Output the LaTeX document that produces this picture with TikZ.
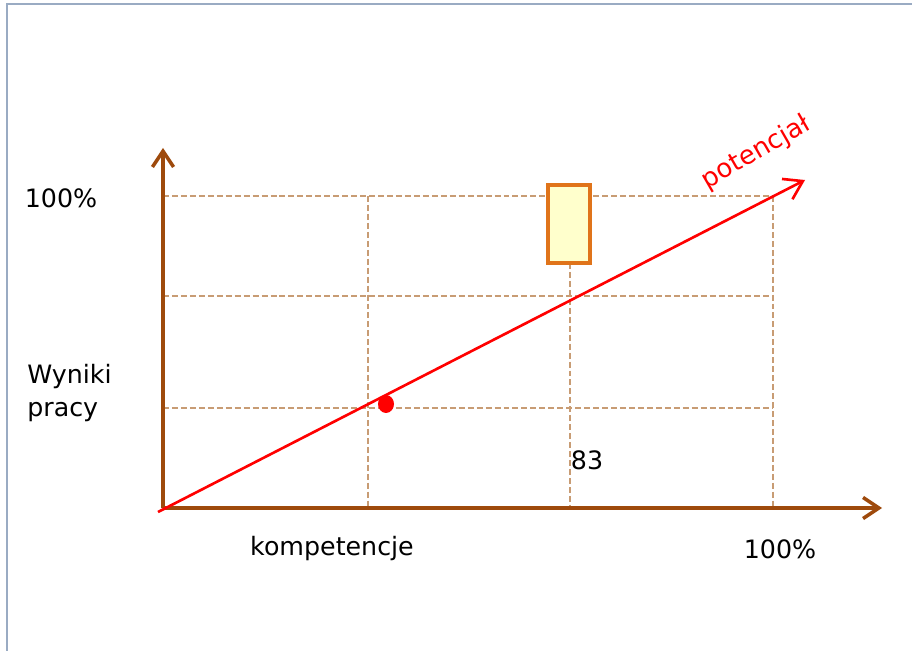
\documentclass[tikz,border=0pt]{standalone}
\usepackage{fontspec}
\setmainfont{DejaVu Sans}
\usetikzlibrary{arrows.meta}

\definecolor{axisbrown}{HTML}{9E4A0C}
\definecolor{gridbrown}{HTML}{C89C74}
\definecolor{boxorange}{HTML}{E0741A}
\definecolor{boxfill}{HTML}{FFFFCC}
\definecolor{framegray}{HTML}{9AABC3}

\begin{document}
\begin{tikzpicture}[x=0.02cm, y=-0.02cm, font=\fontsize{14.4pt}{18.5pt}\selectfont,
  axis/.style={axisbrown, line width=2.2pt, -{Straight Barb[length=9pt, width=12pt, line width=2pt]}},
  gridline/.style={gridbrown, line width=0.9pt, dash pattern=on 3.4pt off 1.7pt},
  potline/.style={red, line width=1.5pt, -{Straight Barb[length=10pt, width=13pt, line width=1.5pt]}}]

\useasboundingbox (0,0) rectangle (912,651);

% frame
\draw[framegray, line width=1.5pt] (7,651) -- (7,4) -- (912,4);

% axes
\coordinate (o) at (163,508);
\coordinate (ytip) at (163,148);
\coordinate (xtip) at (882,508);

% grid
\draw[gridline] (163,196) -- (773,196);
\draw[gridline] (163,296) -- (773,296);
\draw[gridline] (163,408) -- (773,408);
\draw[gridline] (368,196) -- (368,508);
\draw[gridline] (570,263) -- (570,508);
\draw[gridline] (773,196) -- (773,508);

% box
\node[draw=boxorange, fill=boxfill, line width=2pt, minimum width=42*0.02cm,
  minimum height=78*0.02cm, inner sep=0pt] (box) at (569,224) {};

\draw[axis] (o) -- (ytip);
\draw[axis] (o) -- (xtip);

% potential line
\coordinate (pstart) at (158,512);
\coordinate (ptip) at (805,180);
\draw[potline] (pstart) -- (ptip);
\fill[red] (386,404) ellipse [x radius=8, y radius=9];

% labels
\node (ymax) at (61,198) {100\%};
\node[anchor=west, align=left, inner sep=0pt] (ylab) at (27,393) {Wyniki\\pracy};
\node (xlab) at (332,549) {kompetencje};
\node (xmax) at (780,549) {100\%};
\node (val) at (587,460) {83};
\node[red, rotate=30, font=\fontsize{14.8pt}{18pt}\selectfont] (pot) at (756,153) {potencjał};

\end{tikzpicture}
\end{document}
